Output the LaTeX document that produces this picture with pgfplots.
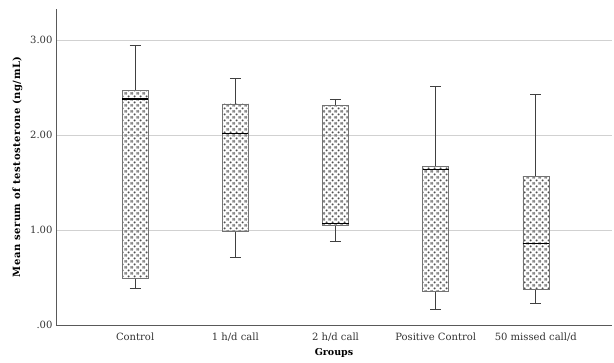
\documentclass[border=0pt]{standalone}
\usepackage{fontspec}
\setmainfont{DejaVu Serif}
\usepackage{pgfplots}
\pgfplotsset{compat=1.18}
\usepgfplotslibrary{statistics}
\usetikzlibrary{patterns}
\pgfdeclarepatterninherentlycolored{spss}{\pgfpointorigin}{\pgfpoint{6pt}{6pt}}{\pgfpoint{6pt}{6pt}}{%
  \pgfsetfillcolor{black!38}%
  \pgfpathcircle{\pgfpoint{0pt}{0pt}}{1.55pt}%
  \pgfpathcircle{\pgfpoint{6pt}{0pt}}{1.55pt}%
  \pgfpathcircle{\pgfpoint{0pt}{6pt}}{1.55pt}%
  \pgfpathcircle{\pgfpoint{6pt}{6pt}}{1.55pt}%
  \pgfpathcircle{\pgfpoint{3pt}{3pt}}{1.55pt}%
  \pgfusepath{fill}%
  \pgfsetfillcolor{black!75}%
  \pgfpathcircle{\pgfpoint{0pt}{0pt}}{0.6pt}%
  \pgfpathcircle{\pgfpoint{6pt}{0pt}}{0.6pt}%
  \pgfpathcircle{\pgfpoint{0pt}{6pt}}{0.6pt}%
  \pgfpathcircle{\pgfpoint{6pt}{6pt}}{0.6pt}%
  \pgfpathcircle{\pgfpoint{3pt}{3pt}}{0.6pt}%
  \pgfusepath{fill}%
}
\begin{document}
\begin{tikzpicture}
\begin{axis}[
  name=ax,
  scale only axis,
  width=556pt, height=316pt,
  xmin=0.21, xmax=5.76,
  ymin=0, ymax=3.33,
  axis x line*=bottom, axis y line*=left,
  axis line style={draw=black!65, line width=0.8pt, -},
  xtick={1,2,3,4,5},
  xticklabels={Control,1 h/d call,2 h/d call,Positive Control,50 missed call/d},
  ytick={0,1,2,3},
  yticklabels={.00,1.00,2.00,3.00},
  major tick length=0pt,
  ymajorgrids,
  grid style={draw=black!18, line width=0.8pt},
  tick label style={font=\fontsize{10}{12}\selectfont, text=black!80},
  xticklabel style={yshift=-4pt},
  yticklabel style={xshift=0pt},
  xlabel={Groups},
  ylabel={Mean serum of testosterone (ng/mL)},
  xlabel style={font=\fontsize{9.5}{11}\selectfont\bfseries, yshift=-1pt},
  ylabel style={font=\fontsize{10}{12}\selectfont\bfseries\addfontfeatures{LetterSpace=5}, yshift=1pt},
  boxplot/draw direction=y,
  boxplot/box extend=0.26,
  boxplot/whisker extend=0.11,
  boxplot/every box/.style={draw=black!55, line width=0.6pt, pattern=spss},
  boxplot/every whisker/.style={draw=black!75, line width=0.9pt},
  boxplot/every median/.style={draw=black, line width=1.6pt},
  clip=false,
]
\addplot+[black, boxplot prepared={draw position=1, lower whisker=0.39, lower quartile=0.49, median=2.38, upper quartile=2.47, upper whisker=2.95}] coordinates {};
\addplot+[black, boxplot prepared={draw position=2, lower whisker=0.71, lower quartile=0.99, median=2.02, upper quartile=2.33, upper whisker=2.60}] coordinates {};
\addplot+[black, boxplot prepared={draw position=3, lower whisker=0.88, lower quartile=1.05, median=1.07, upper quartile=2.31, upper whisker=2.38}] coordinates {};
\addplot+[black, boxplot prepared={draw position=4, lower whisker=0.16, lower quartile=0.36, median=1.64, upper quartile=1.67, upper whisker=2.51}] coordinates {};
\addplot+[black, boxplot prepared={draw position=5, lower whisker=0.23, lower quartile=0.38, median=0.86, upper quartile=1.57, upper whisker=2.43}] coordinates {};
\end{axis}
\pgfresetboundingbox
\path[use as bounding box] (ax.south west) ++(-56pt,-38pt) rectangle ([xshift=2pt,yshift=9pt]ax.north east);
\end{tikzpicture}
\end{document}
